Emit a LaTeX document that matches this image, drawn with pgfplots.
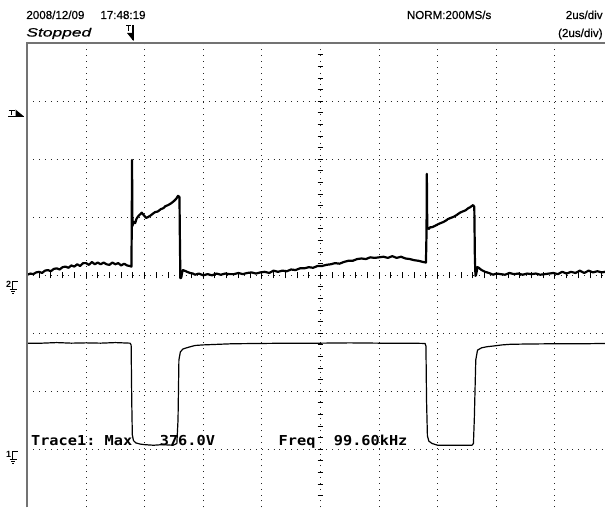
\documentclass[border=0pt]{standalone}
\usepackage{fontspec}
\setmainfont{Liberation Sans}
\newfontfamily\headfont{Liberation Sans}[FakeBold=0.6]
\newfontfamily\monofont{DejaVu Sans Mono}
\usepackage{graphicx}
\usepackage{pgfplots}
\pgfplotsset{compat=1.18}
\pgfplotstableread{
x y
0.00 0.01
0.10 0.03
0.20 0.02
0.30 0.05
0.40 0.06
0.50 0.04
0.60 0.08
0.70 0.09
0.80 0.07
0.90 0.11
1.00 0.12
1.10 0.10
1.20 0.14
1.30 0.15
1.40 0.13
1.50 0.17
1.60 0.15
1.70 0.19
1.80 0.16
1.90 0.21
2.00 0.21
2.10 0.18
2.20 0.23
2.30 0.19
2.40 0.22
2.50 0.19
2.60 0.22
2.70 0.19
2.80 0.18
2.90 0.22
3.00 0.19
3.10 0.21
3.20 0.17
3.30 0.20
3.40 0.17
3.50 0.16
3.55 0.15
3.56 0.78
3.57 1.99
3.585 0.85
3.60 0.88
3.64 0.92
3.68 0.90
3.72 0.97
3.77 1.01
3.82 1.04
3.87 1.06
3.90 1.08
3.95 1.05
4.00 1.02
4.05 0.99
4.10 1.00
4.20 1.03
4.30 1.07
4.36 1.09
4.45 1.10
4.55 1.14
4.65 1.16
4.70 1.19
4.80 1.21
4.90 1.24
5.00 1.28
5.08 1.32
5.14 1.37
5.19 1.35
5.20 0.78
5.22 -0.05
5.25 -0.04
5.28 0.05
5.31 0.09
5.36 0.08
5.45 0.06
5.55 0.04
5.65 0.03
5.72 0.01
5.85 0.03
6.00 0.00
6.15 0.02
6.30 0.00
6.45 0.03
6.60 0.01
6.75 0.03
6.90 0.02
7.05 0.02
7.20 0.04
7.35 0.02
7.50 0.04
7.65 0.05
7.80 0.03
7.95 0.05
8.10 0.06
8.25 0.04
8.40 0.08
8.55 0.06
8.70 0.08
8.85 0.07
9.00 0.10
9.15 0.09
9.30 0.12
9.45 0.12
9.60 0.14
9.75 0.13
9.90 0.16
10.05 0.16
10.20 0.18
10.35 0.19
10.50 0.21
10.65 0.20
10.80 0.23
10.95 0.25
11.10 0.25
11.25 0.28
11.40 0.29
11.55 0.28
11.70 0.31
11.85 0.30
12.00 0.31
12.15 0.32
12.30 0.30
12.45 0.33
12.60 0.30
12.75 0.32
12.90 0.29
13.05 0.28
13.20 0.26
13.35 0.25
13.50 0.23
13.60 0.22
13.62 0.75
13.63 1.75
13.645 0.80
13.66 0.82
13.70 0.80
13.75 0.83
13.81 0.83
13.90 0.85
14.01 0.88
14.10 0.90
14.20 0.92
14.30 0.95
14.35 0.97
14.45 0.99
14.55 1.01
14.65 1.04
14.76 1.08
14.85 1.10
14.95 1.12
15.05 1.16
15.10 1.17
15.15 1.19
15.21 1.21
15.25 1.18
15.27 0.30
15.29 -0.01
15.31 0.01
15.36 0.14
15.40 0.13
15.50 0.09
15.62 0.06
15.75 0.04
15.89 0.01
16.00 0.03
16.15 0.02
16.30 0.01
16.45 0.04
16.60 0.02
16.75 0.03
16.90 0.01
17.05 0.03
17.20 0.02
17.35 0.03
17.50 0.01
17.65 0.02
17.80 0.03
17.95 0.04
18.10 0.02
18.25 0.06
18.40 0.03
18.55 0.06
18.70 0.04
18.85 0.08
19.00 0.04
19.15 0.08
19.30 0.05
19.45 0.07
19.60 0.05
19.71 0.06
}\traceTwo
\pgfplotstableread{
x y
0.00 -1.17
0.50 -1.17
1.00 -1.16
1.50 -1.17
2.00 -1.165
2.50 -1.17
3.00 -1.16
3.50 -1.17
3.54 -1.20
3.56 -2.15
3.58 -2.75
3.62 -2.85
3.70 -2.89
3.85 -2.91
4.00 -2.92
4.30 -2.93
4.60 -2.92
4.97 -2.93
5.10 -2.90
5.14 -2.49
5.17 -1.46
5.22 -1.32
5.31 -1.27
5.50 -1.24
5.72 -1.21
6.00 -1.20
6.50 -1.19
7.00 -1.18
8.00 -1.175
9.00 -1.17
10.00 -1.17
11.00 -1.165
12.00 -1.17
13.00 -1.17
13.57 -1.175
13.60 -1.22
13.62 -2.15
13.65 -2.77
13.70 -2.86
13.81 -2.90
14.00 -2.93
14.50 -2.93
15.00 -2.93
15.17 -2.93
15.22 -2.90
15.25 -2.49
15.30 -1.46
15.36 -1.29
15.50 -1.25
15.70 -1.23
15.89 -1.22
16.20 -1.20
16.47 -1.19
17.00 -1.185
18.00 -1.18
19.00 -1.18
19.71 -1.175
}\traceOne
\begin{document}
\begin{tikzpicture}
\useasboundingbox (0,0) rectangle (302.5pt,254pt);
\begin{axis}[name=ax, at={(13.7pt,0.35pt)}, anchor=south west,
  scale only axis, width=288.8pt, height=232pt,
  xmin=0, xmax=19.71, ymin=-4, ymax=4,
  xtick={2,4,...,18}, ytick={-3,-2,...,3},
  xticklabels={}, yticklabels={},
  major tick length=0pt, tick style={draw=none},
  grid=major,
  major grid style={black!85, line width=0.5pt, dash pattern=on 0.5pt off 2.43pt},
  axis line style={draw=none}]
\addplot[black, line width=1.1pt, line join=round] table {\traceTwo};
\addplot[black, line width=0.6pt, line join=round] table {\traceOne};
\pgfplotsinvokeforeach{0.4,0.8,...,19.61}{\draw[black, line width=0.5pt] (axis cs:#1,-0.052)--(axis cs:#1,0.052);}
\pgfplotsinvokeforeach{-3.8,-3.6,...,3.81}{\draw[black, line width=0.5pt] (axis cs:9.9,#1)--(axis cs:10.1,#1);}
\end{axis}
\draw[black!55, line width=1pt] (ax.south west)--(ax.north west)--(ax.north east);
\begin{scope}[x=0.5pt,y=-0.5pt,yshift=254pt]
  % header
  \node[anchor=base west, inner sep=0pt, font=\fontsize{5.8pt}{6pt}\headfont] at (26,19) {2008/12/09};
  \node[anchor=base west, inner sep=0pt, font=\fontsize{5.8pt}{6pt}\headfont] at (100,19) {17:48:19};
  \node[anchor=base east, inner sep=0pt, font=\fontsize{5.8pt}{6pt}\headfont] at (491.7,19) {NORM:200MS/s};
  \node[anchor=base east, inner sep=0pt, font=\fontsize{5.8pt}{6pt}\headfont] at (603,19) {2us/div};
  \node[anchor=base east, inner sep=0pt, font=\fontsize{5.8pt}{6pt}\headfont] at (603,37) {(2us/div)};
  \node[anchor=base west, inner sep=0pt, font=\fontsize{6pt}{6pt}\headfont\itshape] at (26,36.5) {\scalebox{1.45}[1]{Stopped}};
  % trigger position marker
  \draw[black, line width=0.6pt] (126,25.5)--(131,25.5) (128.5,25.5)--(128.5,31);
  \draw[black, line width=0.7pt] (133,25)--(133,40);
  \fill[black] (127,33)--(133.5,33)--(133.5,41)--cycle;
  % trigger level marker
  \draw[black, line width=0.6pt] (8.5,110.5)--(14.5,110.5) (11.5,110.5)--(11.5,115);
  \draw[black, line width=0.6pt] (8,116.3)--(24,116.3);
  \fill[black] (15.5,109.5)--(15.5,116.5)--(24,116.5)--cycle;
  % ground markers
  \node[anchor=base east, inner sep=0pt, font=\fontsize{4.5pt}{5pt}\selectfont\bfseries] at (11.5,287.5) {2};
  \draw[black, line width=0.5pt] (17.5,281.3)--(12.5,281.3)--(12.5,289.3);
  \draw[black, line width=0.5pt] (9.5,289.3)--(16.5,289.3) (11,291.3)--(15,291.3) (12.3,293.3)--(13.7,293.3);
  \node[anchor=base east, inner sep=0pt, font=\fontsize{4.5pt}{5pt}\selectfont\bfseries] at (11.5,458) {1};
  \draw[black, line width=0.5pt] (17.5,452)--(12.5,452)--(12.5,460);
  \draw[black, line width=0.5pt] (9.5,460)--(16.5,460) (11,462)--(15,462) (12.3,464)--(13.7,464);
  % measurement text
  \node[anchor=base west, inner sep=0pt, font=\fontsize{6.85pt}{7pt}\selectfont\monofont\bfseries] at (30.7,445.5) {\scalebox{1.115}[1]{Trace1:\ Max\ \ \ 376.0V}};
  \node[anchor=base west, inner sep=0pt, font=\fontsize{6.85pt}{7pt}\selectfont\monofont\bfseries] at (278.3,446) {\scalebox{1.115}[1]{Freq\ \ 99.60kHz}};
\end{scope}
\end{tikzpicture}
\end{document}
